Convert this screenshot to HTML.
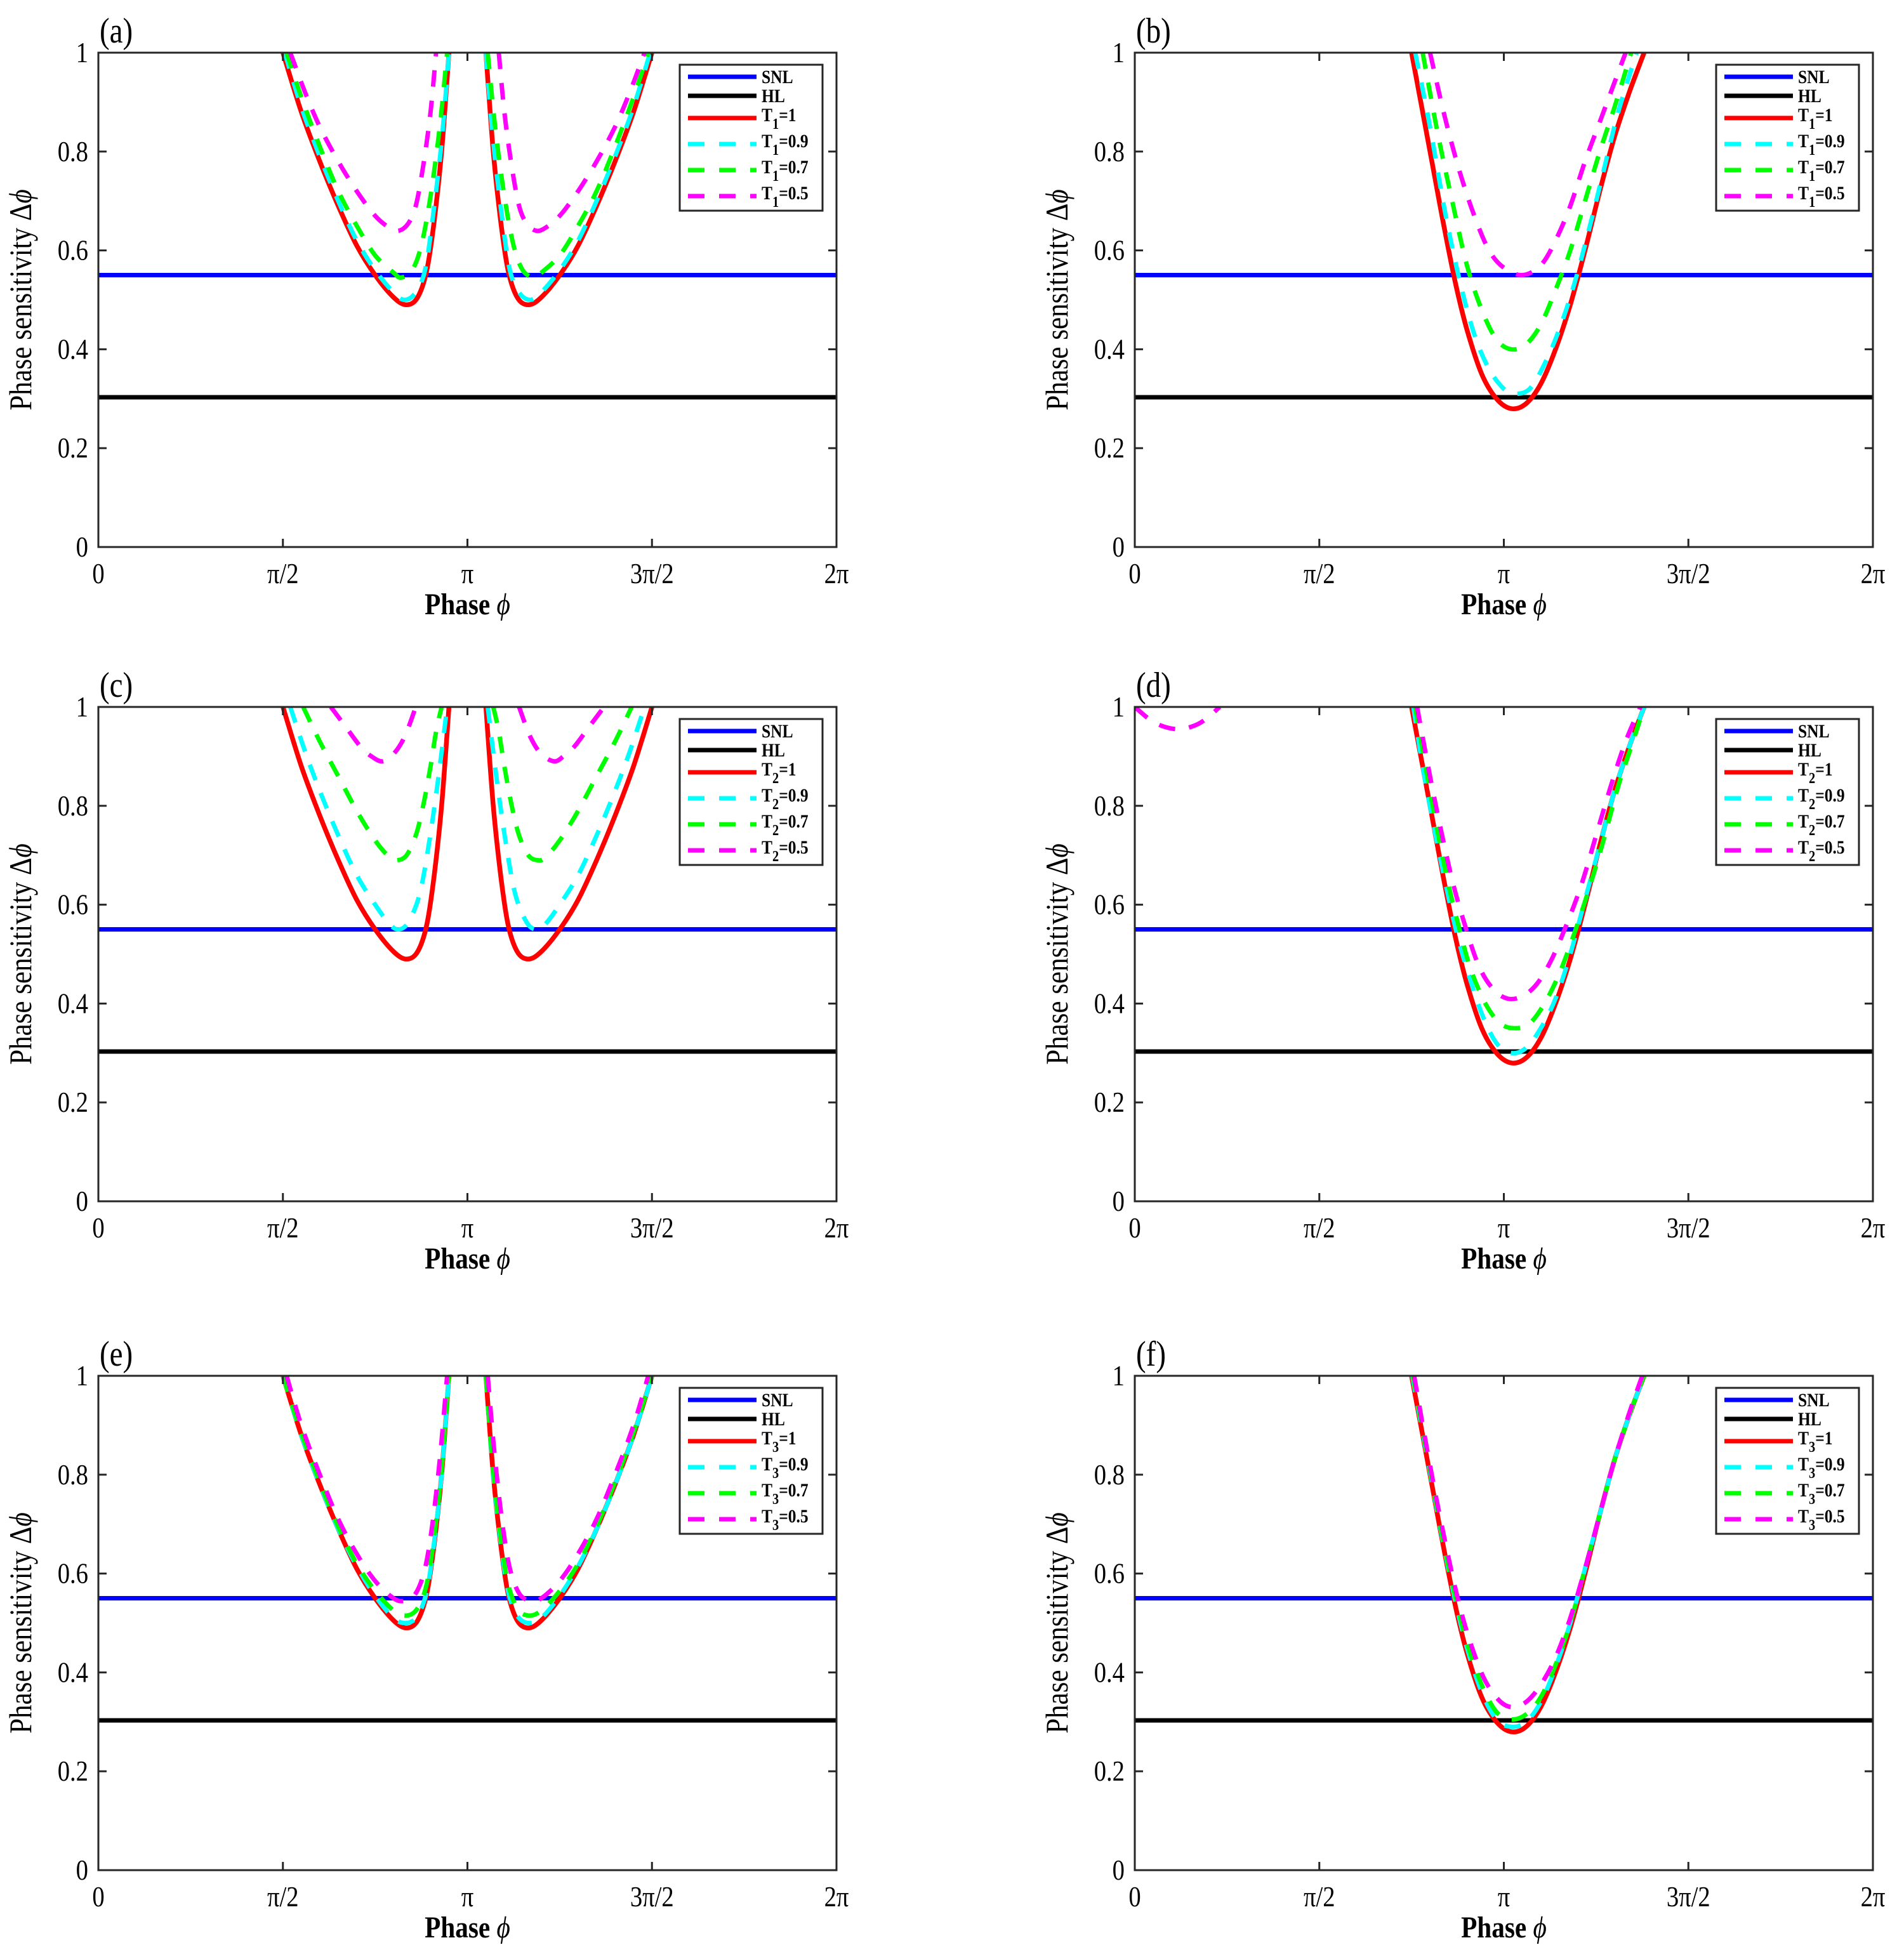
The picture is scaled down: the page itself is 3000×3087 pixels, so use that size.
<!DOCTYPE html>
<html><head><meta charset="utf-8"><style>
html,body{margin:0;padding:0;background:#fff;}
svg{display:block;}
text{font-family:"Liberation Serif",serif;fill:#000;}
</style></head><body>
<svg id="fig" width="3000" height="3087" viewBox="0 0 3000 3087" xmlns="http://www.w3.org/2000/svg"></svg>
<script>
// ---- data ----
const panelLabels = ["(a)","(b)","(c)","(d)","(e)","(f)"];
const paramNames = ["1","1","2","2","3","3"];
const seriesNames = ["1","0.9","0.7","0.5"];
const snlValue = 0.55;
const hlValue = 0.303;
const xTickValues = [0,0.5,1,1.5,2];
const xTickLabels = ["0","\u03c0/2","\u03c0","3\u03c0/2","2\u03c0"];
const yTickValues = [0,0.2,0.4,0.6,0.8,1];
const yTickLabels = ["0","0.2","0.4","0.6","0.8","1"];
// x in units of pi, y = phase sensitivity; each series = list of branches
const dataA = [
 [[[.50,1],[.55,.88],[.60,.78],[.65,.69],[.70,.61],[.75,.55],[.80,.505],[.835,.49],[.865,.505],[.89,.56],[.91,.66],[.93,.80],[.95,1]],
  [[1.05,1],[1.07,.80],[1.09,.66],[1.11,.56],[1.135,.505],[1.165,.49],[1.20,.505],[1.25,.55],[1.30,.61],[1.35,.69],[1.40,.78],[1.45,.88],[1.50,1]]],
 [[[.505,1],[.55,.89],[.60,.79],[.65,.70],[.70,.62],[.75,.56],[.80,.515],[.83,.50],[.86,.515],[.885,.56],[.905,.66],[.93,.82],[.95,1]],
  [[1.05,1],[1.07,.82],[1.095,.66],[1.115,.56],[1.14,.515],[1.17,.50],[1.20,.515],[1.25,.56],[1.30,.62],[1.35,.70],[1.40,.79],[1.45,.89],[1.495,1]]],
 [[[.51,1],[.55,.91],[.60,.81],[.65,.72],[.70,.65],[.75,.59],[.80,.555],[.82,.545],[.85,.56],[.875,.61],[.90,.71],[.925,.85],[.945,1]],
  [[1.055,1],[1.075,.85],[1.10,.71],[1.125,.61],[1.15,.56],[1.18,.545],[1.20,.555],[1.25,.59],[1.30,.65],[1.35,.72],[1.40,.81],[1.45,.91],[1.49,1]]],
 [[[.52,1],[.56,.92],[.60,.85],[.65,.78],[.70,.72],[.75,.67],[.79,.645],[.815,.64],[.84,.655],[.86,.69],[.88,.77],[.90,.88],[.915,1]],
  [[1.085,1],[1.10,.88],[1.12,.77],[1.14,.69],[1.16,.655],[1.185,.64],[1.21,.645],[1.25,.67],[1.30,.72],[1.35,.78],[1.40,.85],[1.44,.92],[1.48,1]]]
];
const dataB = [
 [[[.75,1],[.78,.88],[.81,.76],[.84,.64],[.87,.53],[.90,.44],[.94,.35],[.98,.30],[1.02,.28],[1.06,.29],[1.10,.33],[1.14,.40],[1.18,.49],[1.22,.60],[1.26,.72],[1.30,.83],[1.34,.92],[1.38,1]]],
 [[[.76,1],[.80,.85],[.84,.68],[.88,.54],[.92,.43],[.96,.36],[1.0,.32],[1.03,.31],[1.07,.32],[1.11,.37],[1.15,.44],[1.19,.53],[1.23,.64],[1.27,.76],[1.31,.88],[1.36,1]]],
 [[[.78,1],[.82,.84],[.86,.70],[.90,.57],[.94,.48],[.98,.42],[1.02,.40],[1.06,.41],[1.10,.45],[1.14,.52],[1.18,.60],[1.22,.70],[1.26,.80],[1.30,.89],[1.345,1]]],
 [[[.80,1],[.84,.87],[.88,.76],[.92,.67],[.96,.60],[1.0,.565],[1.05,.55],[1.10,.57],[1.14,.62],[1.18,.69],[1.22,.78],[1.26,.86],[1.30,.94],[1.33,1]]]
];
const dataC = [
 dataA[0],
 [[[.52,1],[.56,.91],[.60,.83],[.65,.74],[.70,.66],[.75,.60],[.79,.56],[.815,.55],[.84,.565],[.87,.62],[.895,.72],[.92,.85],[.945,1]],
  [[1.055,1],[1.08,.85],[1.105,.72],[1.13,.62],[1.16,.565],[1.185,.55],[1.21,.56],[1.25,.60],[1.30,.66],[1.35,.74],[1.40,.83],[1.44,.91],[1.48,1]]],
 [[[.555,1],[.60,.93],[.65,.86],[.70,.79],[.75,.73],[.79,.695],[.81,.69],[.835,.70],[.86,.74],[.88,.80],[.90,.88],[.915,.95],[.93,1]],
  [[1.07,1],[1.085,.95],[1.10,.88],[1.12,.80],[1.14,.74],[1.165,.70],[1.19,.69],[1.21,.695],[1.25,.73],[1.30,.79],[1.35,.86],[1.40,.93],[1.445,1]]],
 [[[.63,1],[.67,.96],[.71,.92],[.74,.90],[.77,.89],[.80,.905],[.83,.94],[.86,1]],
  [[1.14,1],[1.17,.94],[1.20,.905],[1.235,.89],[1.26,.90],[1.29,.92],[1.33,.96],[1.37,1]]]
];
const dataD = [
 dataB[0],
 [[[.755,1],[.78,.88],[.81,.76],[.84,.65],[.87,.55],[.90,.47],[.94,.38],[.98,.32],[1.02,.30],[1.06,.31],[1.10,.35],[1.14,.41],[1.18,.50],[1.22,.61],[1.26,.72],[1.30,.83],[1.34,.92],[1.38,1]]],
 [[[.76,1],[.79,.87],[.82,.75],[.85,.64],[.88,.55],[.91,.47],[.95,.40],[.99,.36],[1.03,.35],[1.07,.36],[1.11,.40],[1.15,.46],[1.19,.54],[1.23,.63],[1.27,.73],[1.31,.84],[1.35,.93],[1.38,1]]],
 [[[.765,1],[.80,.86],[.83,.75],[.86,.65],[.89,.57],[.93,.48],[.97,.43],[1.01,.41],[1.05,.415],[1.09,.44],[1.13,.49],[1.17,.56],[1.21,.64],[1.25,.74],[1.29,.84],[1.33,.93],[1.37,1]],
  [[0,1],[.04,.975],[.08,.96],[.125,.955],[.17,.965],[.20,.98],[.23,1]]]
];
const dataE = [
 dataA[0],
 [[[.50,1],[.55,.88],[.60,.78],[.65,.69],[.70,.615],[.75,.555],[.80,.51],[.835,.50],[.865,.515],[.89,.565],[.91,.665],[.93,.80],[.95,1]],
  [[1.05,1],[1.07,.80],[1.09,.665],[1.11,.565],[1.135,.515],[1.165,.50],[1.20,.51],[1.25,.555],[1.30,.615],[1.35,.69],[1.40,.78],[1.45,.88],[1.50,1]]],
 [[[.50,1],[.55,.885],[.60,.785],[.65,.695],[.70,.62],[.75,.565],[.80,.525],[.835,.515],[.865,.53],[.89,.58],[.91,.675],[.93,.81],[.95,1]],
  [[1.05,1],[1.07,.81],[1.09,.675],[1.11,.58],[1.135,.53],[1.165,.515],[1.20,.525],[1.25,.565],[1.30,.62],[1.35,.695],[1.40,.785],[1.45,.885],[1.50,1]]],
 [[[.51,1],[.55,.90],[.60,.80],[.65,.71],[.70,.64],[.75,.585],[.80,.55],[.83,.545],[.86,.56],[.885,.61],[.905,.70],[.925,.83],[.945,1]],
  [[1.055,1],[1.075,.83],[1.095,.70],[1.115,.61],[1.14,.56],[1.17,.545],[1.20,.55],[1.25,.585],[1.30,.64],[1.35,.71],[1.40,.80],[1.45,.90],[1.49,1]]]
];
const dataF = [
 dataB[0],
 [[[.752,1],[.78,.885],[.81,.765],[.84,.645],[.87,.54],[.90,.45],[.94,.36],[.98,.305],[1.02,.29],[1.06,.30],[1.10,.34],[1.14,.41],[1.18,.50],[1.22,.61],[1.26,.72],[1.30,.83],[1.34,.92],[1.38,1]]],
 [[[.754,1],[.78,.89],[.81,.77],[.84,.65],[.87,.55],[.90,.46],[.94,.375],[.98,.32],[1.02,.305],[1.06,.315],[1.10,.35],[1.14,.415],[1.18,.50],[1.22,.61],[1.26,.72],[1.30,.83],[1.34,.92],[1.38,1]]],
 [[[.757,1],[.785,.88],[.815,.76],[.845,.65],[.875,.55],[.905,.47],[.945,.39],[.985,.345],[1.02,.33],[1.06,.34],[1.10,.375],[1.14,.43],[1.18,.51],[1.22,.61],[1.26,.72],[1.30,.83],[1.34,.925],[1.375,1]]]
];
const panelData = [dataA,dataB,dataC,dataD,dataE,dataF];

// ---- layout ----
const NS="http://www.w3.org/2000/svg";
const svg=document.getElementById('fig');
const colLeft=[155,1788], axW=1163;
const rowTop=[83,1114,2168], axH=779;
const colors=["#ff0000","#00ffff","#00ff00","#ff00ff"];
function mk(tag,attrs,parent){const e=document.createElementNS(NS,tag);for(const k in attrs)e.setAttribute(k,attrs[k]);(parent||svg).appendChild(e);return e;}
function smooth(P){ // catmull-rom to bezier
  let d='M'+P[0][0].toFixed(1)+' '+P[0][1].toFixed(1);
  for(let i=0;i<P.length-1;i++){
    const p0=P[i-1]||P[i],p1=P[i],p2=P[i+1],p3=P[i+2]||p2;
    const c1=[p1[0]+(p2[0]-p0[0])/6,p1[1]+(p2[1]-p0[1])/6];
    const c2=[p2[0]-(p3[0]-p1[0])/6,p2[1]-(p3[1]-p1[1])/6];
    d+=' C'+c1[0].toFixed(1)+' '+c1[1].toFixed(1)+' '+c2[0].toFixed(1)+' '+c2[1].toFixed(1)+' '+p2[0].toFixed(1)+' '+p2[1].toFixed(1);
  }
  return d;
}
const SX=0.84;

panelData.forEach((series,pi)=>{
  const L=colLeft[pi%2], T=rowTop[Math.floor(pi/2)], R=L+axW, B=T+axH;
  const xs=v=>L+v/2*axW, ys=v=>B-v*axH;
  const g=mk('g',{});
  
  
  const cp=mk('clipPath',{id:'clip'+pi},g);
  mk('rect',{x:L,y:T,width:axW,height:axH},cp);
  const pl=mk('text',{x:0,y:0,'font-size':56,transform:`translate(${L+2},${T-16}) scale(${SX},1)`},g);
  pl.textContent=panelLabels[pi];
  
  
  const snl=mk('line',{x1:L,x2:R,y1:ys(snlValue),y2:ys(snlValue),stroke:'#0000ff','stroke-width':7},g);
  
  
  const hl=mk('line',{x1:L,x2:R,y1:ys(hlValue),y2:ys(hlValue),stroke:'#000','stroke-width':7},g);
  
  
  series.forEach((branches,si)=>{
    branches.forEach(br=>{
      const d=smooth(br.map(p=>[xs(p[0]),ys(p[1])]));
      const path=mk('path',{d:d,fill:'none',stroke:colors[si],'stroke-width':si?7:7.5,'stroke-linejoin':'round','clip-path':'url(#clip'+pi+')'},g);
      if(si) path.setAttribute('stroke-dasharray','26 22');
      
      
    });
  });
  const box=mk('rect',{x:L,y:T,width:axW,height:axH,fill:'none',stroke:'#262626','stroke-width':3},g);
  
  
  xTickValues.forEach((v,i)=>{
    const x=xs(v);
    mk('line',{x1:x,x2:x,y1:B,y2:B-13,stroke:'#262626','stroke-width':3},g);
    mk('line',{x1:x,x2:x,y1:T,y2:T+13,stroke:'#262626','stroke-width':3},g);
    const t=mk('text',{x:0,y:0,'font-size':46,'text-anchor':'middle',transform:`translate(${x},${B+57}) scale(${SX},1)`},g);
    t.textContent=xTickLabels[i];
    
    
  });
  yTickValues.forEach((v,i)=>{
    const y=ys(v);
    mk('line',{x1:L,x2:L+13,y1:y,y2:y,stroke:'#262626','stroke-width':3},g);
    mk('line',{x1:R,x2:R-13,y1:y,y2:y,stroke:'#262626','stroke-width':3},g);
    const t=mk('text',{x:0,y:0,'font-size':46,'text-anchor':'end',transform:`translate(${L-16},${y+15}) scale(${SX},1)`},g);
    t.textContent=yTickLabels[i];
    
    
  });
  const xl=mk('text',{x:0,y:0,'font-size':48,'font-weight':'bold','text-anchor':'middle',transform:`translate(${(L+R)/2},${B+106}) scale(0.86,1)`},g);
  xl.innerHTML='Phase <tspan font-style="italic" font-weight="normal">\u03d5</tspan>';
  
  
  const yl=mk('text',{x:0,y:0,'font-size':50,'text-anchor':'middle',transform:`translate(${L-106},${(T+B)/2}) rotate(-90) scale(0.86,1)`},g);
  yl.innerHTML='Phase sensitivity \u0394<tspan font-style="italic">\u03d5</tspan>';
  
  
  // legend
  const lx=R-247, ly=T+19;
  const lg=mk('g',{},g);
  
  
  mk('rect',{x:lx,y:ly,width:225,height:230,fill:'#fff',stroke:'#262626','stroke-width':3},lg);
  const rowsY=[19,49,84,125,166,207];
  const rowColors=['#0000ff','#000000'].concat(colors);
  rowsY.forEach((oy,ri)=>{
    const y=ly+oy;
    const ln=mk('line',{x1:lx+13,x2:lx+121,y1:y,y2:y,stroke:rowColors[ri],'stroke-width':7},lg);
    if(ri>2) ln.setAttribute('stroke-dasharray','26 23');
    const t=mk('text',{x:0,y:0,'font-size':30,'font-weight':'bold',transform:`translate(${lx+129},${y+(ri<2?10:5)}) scale(0.85,1)`},lg);
    if(ri===0) t.textContent='SNL';
    else if(ri===1) t.textContent='HL';
    else t.innerHTML='T<tspan dy="12" font-size="24">'+paramNames[pi]+'</tspan><tspan dy="-12">='+seriesNames[ri-2]+'</tspan>';
    
    
  });
});
</script>
</body></html>
